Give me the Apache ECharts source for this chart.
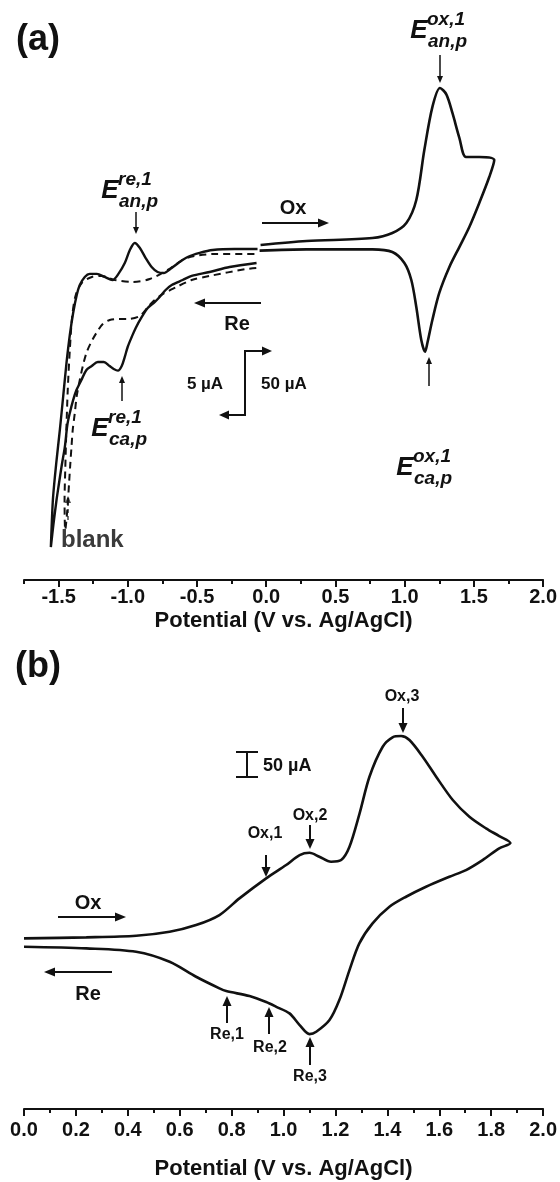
<!DOCTYPE html>
<html>
<head>
<meta charset="utf-8">
<script src="https://cdn.jsdelivr.net/npm/echarts@6/dist/echarts.min.js"></script>
<style>
  html, body { margin: 0; padding: 0; background: #fff; }
  #chart { width: 560px; height: 1182px; }
</style>
</head>
<body>
<div id="chart"></div>
<script>
// panel (a) tick labels
const aTicks = [-1.5, -1.0, -0.5, 0.0, 0.5, 1.0, 1.5, 2.0];

// panel (a), left part, 5 uA scale: [E (V), I (uA)]
const aSampleLeft = [
  [-0.070, -1.20], [-0.265, -1.51], [-0.409, -1.90], [-0.539, -2.21], [-0.604, -2.53],
  [-0.683, -2.92], [-0.727, -3.31], [-0.770, -3.86], [-0.806, -4.25], [-0.856, -4.72],
  [-0.899, -5.42], [-0.943, -6.28], [-0.972, -6.99], [-1.001, -7.77], [-1.022, -8.55],
  [-1.044, -9.26], [-1.071, -9.62], [-1.102, -9.49], [-1.131, -9.26], [-1.174, -8.94],
  [-1.217, -8.94], [-1.261, -9.26], [-1.299, -9.57], [-1.335, -10.35], [-1.371, -11.14],
  [-1.395, -11.92], [-1.419, -12.93], [-1.437, -13.87], [-1.455, -15.59], [-1.477, -17.00],
  [-1.499, -18.57], [-1.515, -19.74], [-1.538, -21.70], [-1.556, -23.42],
  [-1.549, -21.46], [-1.540, -19.51], [-1.517, -16.85], [-1.491, -14.26], [-1.466, -11.53],
  [-1.443, -9.02], [-1.419, -6.83], [-1.395, -5.11], [-1.369, -3.70], [-1.347, -2.92],
  [-1.311, -2.29], [-1.275, -2.05], [-1.224, -2.05], [-1.167, -2.29], [-1.111, -2.53],
  [-1.068, -2.05], [-1.022, -1.20], [-0.986, -0.20], [-0.950, 0.37], [-0.914, 0.00],
  [-0.871, -0.81], [-0.828, -1.51], [-0.785, -1.90], [-0.741, -1.98], [-0.683, -1.59],
  [-0.626, -1.12], [-0.568, -0.73], [-0.481, -0.41], [-0.387, -0.18], [-0.229, -0.10],
  [-0.063, -0.10]
];

// blank (dashed)
const aBlankLeft = [
  [-0.072, -1.59], [-0.144, -1.67], [-0.409, -2.21], [-0.539, -2.53], [-0.649, -3.08],
  [-0.770, -3.78], [-0.842, -4.48], [-0.914, -5.34], [-1.001, -5.58], [-1.073, -5.58],
  [-1.131, -5.66], [-1.181, -5.97], [-1.227, -6.67], [-1.268, -7.46], [-1.299, -8.24],
  [-1.325, -9.26], [-1.347, -10.35], [-1.369, -11.60], [-1.383, -12.93], [-1.398, -14.26],
  [-1.407, -15.59], [-1.416, -17.00], [-1.423, -18.18], [-1.437, -20.50], [-1.452, -22.09],
  [-1.457, -19.74], [-1.452, -17.39], [-1.444, -14.26], [-1.434, -11.14], [-1.419, -8.00],
  [-1.401, -5.27], [-1.376, -3.70], [-1.333, -2.76], [-1.260, -2.29], [-1.188, -2.21],
  [-1.094, -2.53], [-0.964, -2.68], [-0.842, -2.45], [-0.712, -1.74], [-0.575, -0.81],
  [-0.359, -0.49], [-0.070, -0.49]
];

// panel (a), right part, 50 uA scale
const aSampleRight = [
  [-0.041, 2.1], [0.291, 5.2], [0.767, 7.6], [0.911, 11.5], [1.012, 19.3], [1.084, 37.3],
  [1.142, 76.4], [1.200, 110], [1.255, 125], [1.301, 120], [1.346, 105], [1.395, 86],
  [1.443, 71], [1.539, 71], [1.647, 68.6],
  [1.611, 55.3], [1.539, 35], [1.467, 16.2], [1.395, 0.5], [1.323, -15.1], [1.250, -35.4],
  [1.200, -56.6], [1.164, -74.6], [1.147, -81.4], [1.120, -72.2], [1.084, -46.4],
  [1.048, -25.3], [0.998, -12], [0.911, -3.4], [0.767, -1.3], [0.291, -1.3], [-0.048, -2.3]
];

// panel (b)
const bSample = [
  [0.000, 7.9], [0.240, 9.8], [0.432, 12.8], [0.561, 20.3], [0.663, 32.9], [0.753, 51.7],
  [0.830, 83.1], [0.933, 120.8], [1.010, 145.8], [1.062, 164.6], [1.100, 168.9],
  [1.138, 161.4], [1.183, 152], [1.222, 155.2], [1.254, 180.2], [1.293, 243], [1.331, 311.9],
  [1.382, 368.3], [1.420, 386], [1.453, 388.4], [1.485, 380.9], [1.536, 349.5],
  [1.588, 311.9], [1.652, 268.1], [1.716, 236.6], [1.780, 214.8], [1.831, 200.3],
  [1.874, 187.2],
  [1.831, 177.2], [1.767, 155.2], [1.703, 136.4], [1.639, 123.8], [1.549, 105],
  [1.472, 86.2], [1.408, 67.3], [1.343, 36.1], [1.292, -1.5], [1.254, -51.7],
  [1.215, -108.2], [1.177, -145.8], [1.126, -167.8], [1.100, -172.1], [1.062, -155.2],
  [1.023, -133.2], [0.972, -120.8], [0.933, -111.9], [0.869, -100.6], [0.779, -91.2],
  [0.753, -86.1], [0.663, -64.3], [0.561, -36.1], [0.432, -17.3], [0.240, -10.9],
  [0.000, -7.9]
];

const FONT = '"Liberation Sans", Arial, sans-serif';
const INK = '#111';

function txt(x, y, s, size, opt) {
  opt = opt || {};
  return {
    type: 'text', x: x, y: y, silent: true,
    style: {
      text: s,
      font: (opt.italic ? 'italic ' : '') + 'bold ' + size + 'px ' + FONT,
      fill: opt.fill || INK,
      align: opt.align || 'center',
      verticalAlign: 'middle'
    }
  };
}

function arrow(x1, y1, x2, y2, opt) {
  opt = opt || {};
  const hl = opt.head || 9, hw = opt.hw || 8;
  const dx = x2 - x1, dy = y2 - y1, L = Math.sqrt(dx * dx + dy * dy);
  const ux = dx / L, uy = dy / L;
  const bx = x2 - ux * hl, by = y2 - uy * hl;
  return [
    { type: 'line', silent: true,
      shape: { x1: x1, y1: y1, x2: bx, y2: by },
      style: { stroke: opt.color || INK, lineWidth: opt.width || 2, lineDash: opt.dash || null } },
    { type: 'polygon', silent: true,
      shape: { points: [[x2, y2], [bx - uy * hw / 2, by + ux * hw / 2], [bx + uy * hw / 2, by - ux * hw / 2]] },
      style: { fill: opt.color || INK } }
  ];
}

function seg(x1, y1, x2, y2, w) {
  return { type: 'line', silent: true, shape: { x1: x1, y1: y1, x2: x2, y2: y2 },
    style: { stroke: INK, lineWidth: w || 2 } };
}

// E with superscript / subscript
function ePeak(x, y, sup, sub) {
  return [
    txt(x, y, 'E', 26, { italic: true }),
    txt(x + 8, y - 11, sup, 19, { italic: true, align: 'left' }),
    txt(x + 9, y + 11, sub, 19, { italic: true, align: 'left' })
  ];
}

let graphics = [];
graphics.push(txt(38, 40, '(a)', 36));
graphics.push(txt(38, 667, '(b)', 36));

// panel (a) annotations
graphics = graphics.concat(ePeak(110, 191, 're,1', 'an,p'));
graphics = graphics.concat(arrow(136, 212, 136, 234, { width: 1.5, head: 7, hw: 6 }));
graphics = graphics.concat(ePeak(419, 31, 'ox,1', 'an,p'));
graphics = graphics.concat(arrow(440, 55, 440, 83, { width: 1.5, head: 7, hw: 6 }));
graphics = graphics.concat(ePeak(100, 429, 're,1', 'ca,p'));
graphics = graphics.concat(arrow(122, 401, 122, 376, { width: 1.5, head: 7, hw: 6 }));
graphics = graphics.concat(ePeak(405, 468, 'ox,1', 'ca,p'));
graphics = graphics.concat(arrow(429, 386, 429, 357, { width: 1.5, head: 7, hw: 6 }));
graphics = graphics.concat(arrow(262, 223, 329, 223, { head: 11, hw: 9 }));
graphics.push(txt(293, 208, 'Ox', 20));
graphics = graphics.concat(arrow(261, 303, 194, 303, { head: 11, hw: 9 }));
graphics.push(txt(237, 324, 'Re', 20));
graphics.push(seg(245, 351, 245, 415));
graphics = graphics.concat(arrow(244, 351, 272, 351, { head: 10, hw: 9 }));
graphics = graphics.concat(arrow(246, 415, 219, 415, { head: 10, hw: 9 }));
graphics.push(txt(205, 384, '5 \u00b5A', 17));
graphics.push(txt(261, 384, '50 \u00b5A', 17, { align: 'left' }));
graphics = graphics.concat(arrow(68, 520, 68, 496, { width: 1.5, head: 7, hw: 6, dash: [4, 3], color: '#444' }));
graphics.push(txt(61, 540, 'blank', 24, { align: 'left', fill: '#3a3a3a' }));

// panel (b) annotations
graphics.push(txt(402, 697, 'Ox,3', 16));
graphics = graphics.concat(arrow(403, 708, 403, 733, { head: 10, hw: 9 }));
graphics.push(txt(310, 816, 'Ox,2', 16));
graphics = graphics.concat(arrow(310, 825, 310, 849, { head: 10, hw: 9 }));
graphics.push(txt(265, 834, 'Ox,1', 16));
graphics = graphics.concat(arrow(266, 855, 266, 877, { head: 10, hw: 9 }));
graphics.push(seg(247, 752, 247, 777));
graphics.push(seg(236, 752, 258, 752));
graphics.push(seg(236, 777, 258, 777));
graphics.push(txt(263, 766, '50 \u00b5A', 18, { align: 'left' }));
graphics = graphics.concat(arrow(58, 917, 126, 917, { head: 11, hw: 9 }));
graphics.push(txt(88, 903, 'Ox', 20));
graphics = graphics.concat(arrow(112, 972, 44, 972, { head: 11, hw: 9 }));
graphics.push(txt(88, 994, 'Re', 20));
graphics = graphics.concat(arrow(227, 1023, 227, 996, { head: 10, hw: 9 }));
graphics.push(txt(227, 1035, 'Re,1', 16));
graphics = graphics.concat(arrow(269, 1034, 269, 1007, { head: 10, hw: 9 }));
graphics.push(txt(270, 1048, 'Re,2', 16));
graphics = graphics.concat(arrow(310, 1065, 310, 1037, { head: 10, hw: 9 }));
graphics.push(txt(310, 1077, 'Re,3', 16));

const axisText = { color: INK, fontSize: 20, fontWeight: 'bold', fontFamily: FONT };
const nameText = { color: INK, fontSize: 22, fontWeight: 'bold', fontFamily: FONT };
const axLine = { show: true, onZero: false, lineStyle: { color: INK, width: 2 } };

const curve = (data, xi, yi, w, dash) => ({
  type: 'line', data: data, xAxisIndex: xi, yAxisIndex: yi,
  showSymbol: false, symbol: 'none', smooth: 0.3, silent: true,
  lineStyle: { color: INK, width: w, type: dash || 'solid' }
});

const option = {
  animation: false,
  backgroundColor: '#fff',
  grid: [
    { left: 24, top: 40, width: 520, height: 540 },
    { left: 24, top: 690, width: 520, height: 419 }
  ],
  xAxis: [
    {
      gridIndex: 0, type: 'value', position: 'bottom', min: -1.75, max: 2,
      axisLine: axLine,
      axisTick: { show: true, customValues: aTicks, length: 7, lineStyle: { color: INK, width: 2 } },
      axisLabel: { customValues: aTicks, formatter: v => v.toFixed(1), margin: 7, ...axisText },
      splitLine: { show: false },
      name: 'Potential (V vs. Ag/AgCl)', nameLocation: 'middle', nameGap: 30, nameTextStyle: nameText
    },
    {
      gridIndex: 0, type: 'value', position: 'bottom', min: -1.75, max: 2, interval: 0.25,
      axisLine: { show: false, onZero: false },
      axisTick: { show: true, length: 4, lineStyle: { color: INK, width: 2 } },
      axisLabel: { show: false }, splitLine: { show: false }
    },
    {
      gridIndex: 1, type: 'value', position: 'bottom', min: 0, max: 2, interval: 0.2,
      axisLine: axLine,
      axisTick: { show: true, length: 7, lineStyle: { color: INK, width: 2 } },
      minorTick: { show: true, splitNumber: 2, length: 4, lineStyle: { color: INK, width: 2 } },
      axisLabel: { formatter: v => v.toFixed(1), margin: 11, ...axisText },
      splitLine: { show: false },
      name: 'Potential (V vs. Ag/AgCl)', nameLocation: 'middle', nameGap: 49, nameTextStyle: nameText
    }
  ],
  yAxis: [
    { gridIndex: 0, type: 'value', min: -26, max: 16.25, show: false },
    { gridIndex: 0, type: 'value', min: -260, max: 162.5, show: false },
    { gridIndex: 1, type: 'value', min: -313, max: 475, show: false }
  ],
  series: [
    curve(aBlankLeft, 0, 0, 2, [7, 5]),
    curve(aSampleLeft, 0, 0, 2.4),
    curve(aSampleRight, 0, 1, 2.6),
    curve(bSample, 2, 2, 2.6)
  ],
  graphic: graphics
};

const chart = echarts.init(document.getElementById('chart'), null, { renderer: 'canvas' });
chart.setOption(option);
</script>
</body>
</html>
